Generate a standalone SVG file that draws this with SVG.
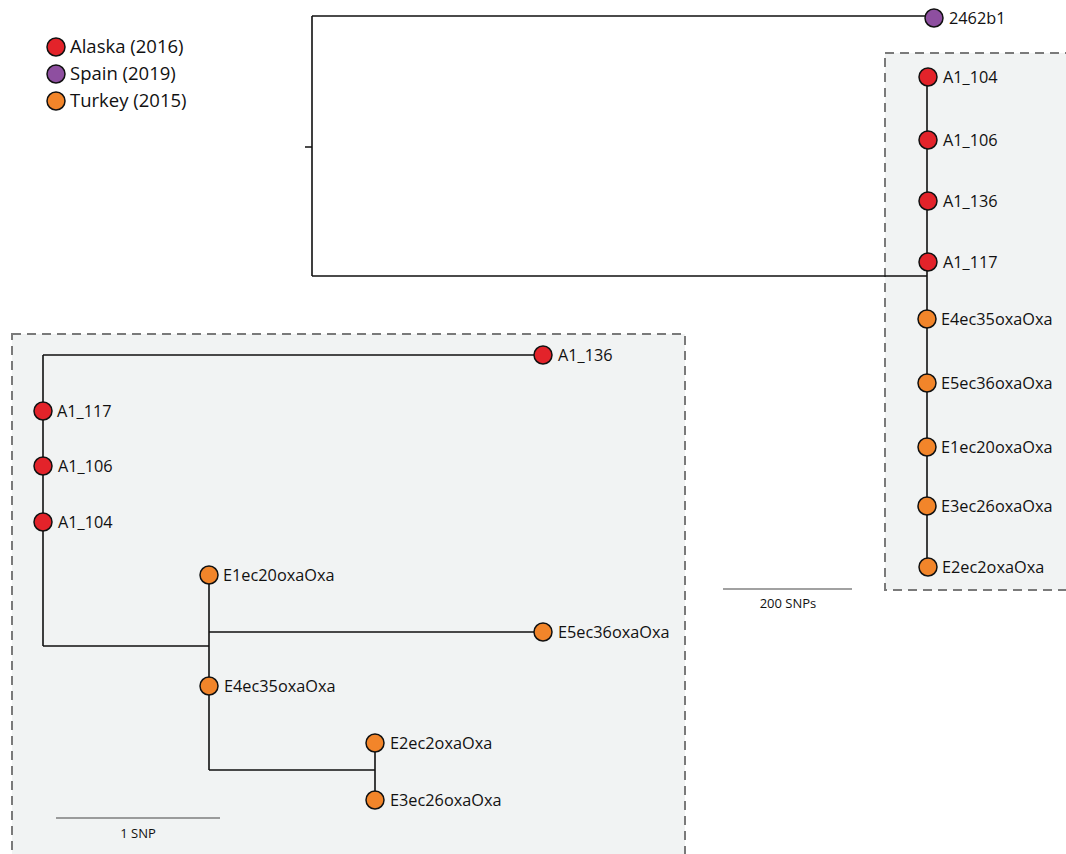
<svg xmlns="http://www.w3.org/2000/svg" width="1066" height="854" viewBox="0 0 1066 854">
<style>
.box{fill:#f1f3f3;stroke:#7a7a7a;stroke-width:2;stroke-dasharray:9,6}
.br{fill:none;stroke:#111;stroke-width:1.6}
.sc{fill:none;stroke:#444;stroke-width:1.2}
.ak{fill:#e3232a;stroke:#111;stroke-width:1.5}
.sp{fill:#8e4fa0;stroke:#111;stroke-width:1.5}
.tk{fill:#f2852a;stroke:#111;stroke-width:1.5}
text{font-family:"Open Sans","Liberation Sans",sans-serif;fill:#111}
.lb{font-size:16.3px}
.lg{font-size:18.5px}
.sm{font-size:13px;text-anchor:middle}
</style>
<rect width="1066" height="854" fill="#fff"/>
<g id="legend">
<circle class="ak" cx="56" cy="47" r="9"/><text class="lg" x="70" y="53">Alaska (2016)</text>
<circle class="sp" cx="56" cy="74" r="9"/><text class="lg" x="70" y="80">Spain (2019)</text>
<circle class="tk" cx="56" cy="101" r="9"/><text class="lg" x="70" y="107">Turkey (2015)</text>
</g>
<rect id="box-right" class="box" x="885" y="53" width="190" height="537"/>
<rect id="box-left" class="box" x="12" y="334" width="673" height="530"/>
<g id="connectors">
<path class="br" d="M305 147H312M312 16V276M312 16H926M312 276H927M927 77V567"/>
<path class="br" d="M43 355H534M43 355V646M43 646H209M209 575V770M209 632H534M209 770H375M375 743V800"/>
<path class="sc" d="M723 589H852M56 818H220"/>
</g>
<g id="scale-top"><text class="sm" x="788" y="608">200 SNPs</text></g>
<g id="scale-bottom"><text class="sm" x="138" y="838">1 SNP</text></g>
<g id="n-2462b1"><circle class="sp" cx="934" cy="18" r="9"/><text class="lb" x="949" y="24">2462b1</text></g>
<g id="r-A1_104"><circle class="ak" cx="928" cy="77" r="9"/><text class="lb" x="943" y="83">A1_104</text></g>
<g id="r-A1_106"><circle class="ak" cx="928" cy="140" r="9"/><text class="lb" x="943" y="146">A1_106</text></g>
<g id="r-A1_136"><circle class="ak" cx="928" cy="201" r="9"/><text class="lb" x="943" y="207">A1_136</text></g>
<g id="r-A1_117"><circle class="ak" cx="928" cy="262" r="9"/><text class="lb" x="943" y="268">A1_117</text></g>
<g id="r-E4ec35"><circle class="tk" cx="927" cy="319" r="9"/><text class="lb" x="941" y="325">E4ec35oxaOxa</text></g>
<g id="r-E5ec36"><circle class="tk" cx="927" cy="383" r="9"/><text class="lb" x="941" y="389">E5ec36oxaOxa</text></g>
<g id="r-E1ec20"><circle class="tk" cx="927" cy="447" r="9"/><text class="lb" x="941" y="453">E1ec20oxaOxa</text></g>
<g id="r-E3ec26"><circle class="tk" cx="927" cy="506" r="9"/><text class="lb" x="941" y="512">E3ec26oxaOxa</text></g>
<g id="r-E2ec2"><circle class="tk" cx="928" cy="567" r="9"/><text class="lb" x="942" y="573">E2ec2oxaOxa</text></g>
<g id="l-A1_136"><circle class="ak" cx="543" cy="355" r="9"/><text class="lb" x="558" y="361">A1_136</text></g>
<g id="l-A1_117"><circle class="ak" cx="43" cy="411" r="9"/><text class="lb" x="57" y="417">A1_117</text></g>
<g id="l-A1_106"><circle class="ak" cx="43" cy="466" r="9"/><text class="lb" x="58" y="472">A1_106</text></g>
<g id="l-A1_104"><circle class="ak" cx="43" cy="522" r="9"/><text class="lb" x="58" y="528">A1_104</text></g>
<g id="l-E1ec20"><circle class="tk" cx="209" cy="575" r="9"/><text class="lb" x="223" y="581">E1ec20oxaOxa</text></g>
<g id="l-E5ec36"><circle class="tk" cx="543" cy="632" r="9"/><text class="lb" x="558" y="638">E5ec36oxaOxa</text></g>
<g id="l-E4ec35"><circle class="tk" cx="209" cy="686" r="9"/><text class="lb" x="224" y="692">E4ec35oxaOxa</text></g>
<g id="l-E2ec2"><circle class="tk" cx="375" cy="743" r="9"/><text class="lb" x="390" y="749">E2ec2oxaOxa</text></g>
<g id="l-E3ec26"><circle class="tk" cx="375" cy="800" r="9"/><text class="lb" x="390" y="806">E3ec26oxaOxa</text></g>
</svg>
